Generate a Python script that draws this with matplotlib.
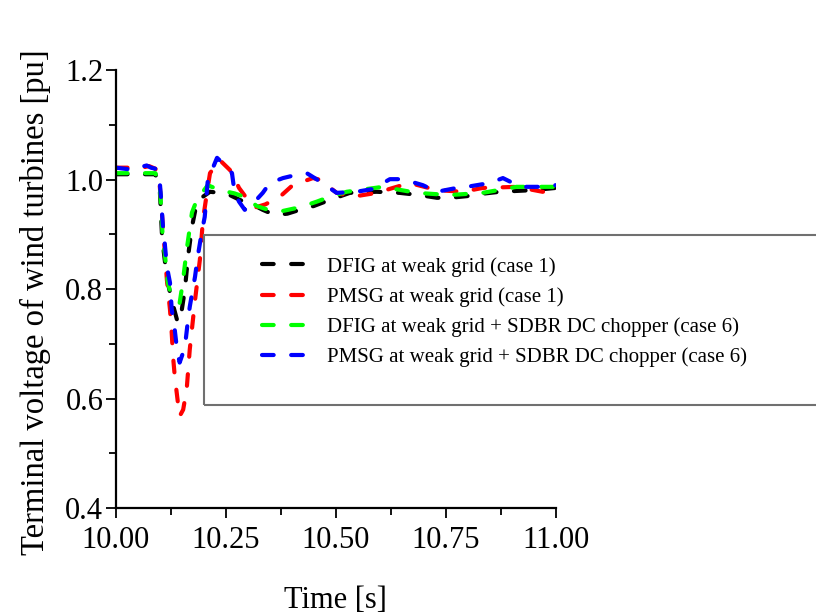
import numpy as np
import matplotlib
matplotlib.use("Agg")
import matplotlib.pyplot as plt
from matplotlib.patches import Rectangle
from matplotlib.ticker import MultipleLocator, FormatStrFormatter

plt.rcParams['font.family'] = ['Liberation Serif', 'DejaVu Serif']

# terminal voltage traces [pu] vs time [s]
t_dfig = [10.0, 10.05, 10.09, 10.1, 10.105, 10.111, 10.118, 10.127, 10.139, 10.141, 10.15,
          10.157, 10.164, 10.173, 10.184, 10.198, 10.214, 10.236, 10.259, 10.282, 10.31,
          10.334, 10.357, 10.366, 10.39, 10.418, 10.45, 10.486, 10.532, 10.593, 10.645,
          10.69, 10.73, 10.76, 10.798, 10.84, 10.873, 10.948, 11.0]
v_dfig = [1.01, 1.01, 1.01, 0.98, 0.896, 0.854, 0.812, 0.78, 0.744, 0.739, 0.763,
          0.8, 0.859, 0.914, 0.958, 0.969, 0.978, 0.976, 0.972, 0.963, 0.955,
          0.945, 0.937, 0.936, 0.938, 0.945, 0.952, 0.963, 0.976, 0.978, 0.976,
          0.972, 0.967, 0.967, 0.97, 0.975, 0.978, 0.981, 0.985]

t_pmsg = [10.0, 10.03, 10.06, 10.075, 10.09, 10.1, 10.107, 10.111, 10.116, 10.123, 10.127,
          10.13, 10.134, 10.141, 10.145, 10.153, 10.161, 10.168, 10.18, 10.191, 10.198,
          10.207, 10.214, 10.236, 10.259, 10.266, 10.28, 10.305, 10.316, 10.34, 10.373,
          10.402, 10.448, 10.464, 10.502, 10.539, 10.593, 10.63, 10.668, 10.73, 10.789,
          10.834, 10.911, 10.97, 10.993, 11.0]
v_pmsg = [1.022, 1.022, 1.022, 1.025, 1.02, 0.987, 0.914, 0.872, 0.817, 0.763, 0.72,
          0.677, 0.64, 0.593, 0.568, 0.58, 0.617, 0.69, 0.78, 0.854, 0.927,
          0.976, 1.012, 1.036, 1.018, 1.009, 0.985, 0.958, 0.949, 0.955, 0.969,
          0.99, 1.003, 1.0, 0.976, 0.969, 0.976, 0.985, 0.994, 0.981, 0.978,
          0.985, 0.987, 0.978, 0.978, 0.978]

t_dfig_sdbr = [10.0, 10.05, 10.09, 10.1, 10.103, 10.107, 10.111, 10.118, 10.127, 10.145,
               10.152, 10.161, 10.173, 10.184, 10.209, 10.236, 10.27, 10.298, 10.32, 10.35,
               10.38, 10.42, 10.457, 10.49, 10.525, 10.607, 10.684, 10.759, 10.834, 10.911,
               10.986, 11.0]
v_dfig_sdbr = [1.012, 1.012, 1.012, 0.987, 0.95, 0.885, 0.867, 0.812, 0.786, 0.775,
               0.812, 0.872, 0.94, 0.963, 0.99, 0.981, 0.975, 0.967, 0.952, 0.944,
               0.943, 0.95, 0.96, 0.97, 0.978, 0.987, 0.976, 0.972, 0.976, 0.987,
               0.987, 0.987]

t_pmsg_sdbr = [10.0, 10.02, 10.04, 10.06, 10.07, 10.08, 10.09, 10.1, 10.103, 10.107, 10.111,
               10.116, 10.123, 10.127, 10.133, 10.139, 10.145, 10.151, 10.157, 10.164, 10.168,
               10.18, 10.186, 10.195, 10.202, 10.209, 10.23, 10.252, 10.264, 10.27, 10.28,
               10.293, 10.31, 10.334, 10.35, 10.38, 10.411, 10.434, 10.47, 10.502, 10.547,
               10.584, 10.623, 10.652, 10.698, 10.73, 10.775, 10.798, 10.85, 10.88, 10.92,
               10.96, 11.0]
v_pmsg_sdbr = [1.022, 1.02, 1.018, 1.024, 1.026, 1.022, 1.02, 0.994, 0.963, 0.914, 0.885,
               0.841, 0.812, 0.763, 0.732, 0.69, 0.666, 0.68, 0.695, 0.744, 0.768,
               0.823, 0.859, 0.903, 0.932, 0.999, 1.04, 1.023, 1.012, 0.976, 0.96,
               0.945, 0.955, 0.976, 0.994, 1.003, 1.009, 1.012, 0.994, 0.976, 0.978,
               0.983, 1.001, 1.001, 0.99, 0.978, 0.985, 0.987, 0.994, 1.003, 0.987,
               0.987, 0.99]

labels = ['DFIG at weak grid (case 1)',
          'PMSG at weak grid (case 1)',
          'DFIG at weak grid + SDBR DC chopper (case 6)',
          'PMSG at weak grid + SDBR DC chopper (case 6)']
colors = ['#000000', '#ff0000', '#00ff00', '#0000ff']

fig = plt.figure(figsize=(8.16, 6.16), dpi=100)
ax = fig.add_axes([0.142, 0.175, 0.539, 0.711])

series = [(t_dfig, v_dfig), (t_pmsg, v_pmsg),
          (t_dfig_sdbr, v_dfig_sdbr), (t_pmsg_sdbr, v_pmsg_sdbr)]
handles = []
for (t, v), c, lab in zip(series, colors, labels):
    ln, = ax.plot(t, v, color=c, lw=3.0, dashes=(2.8, 4.2),
                  dash_capstyle='round', label=lab)
    handles.append(ln)

ax.set_xlim(10.0, 11.0)
ax.set_ylim(0.4, 1.2)
ax.xaxis.set_major_locator(MultipleLocator(0.25))
ax.xaxis.set_minor_locator(MultipleLocator(0.125))
ax.yaxis.set_major_locator(MultipleLocator(0.2))
ax.yaxis.set_minor_locator(MultipleLocator(0.1))
ax.xaxis.set_major_formatter(FormatStrFormatter('%.2f'))
ax.yaxis.set_major_formatter(FormatStrFormatter('%.1f'))

for s in ['top', 'right']:
    ax.spines[s].set_visible(False)
for s in ['left', 'bottom']:
    ax.spines[s].set_linewidth(1.6)
ax.tick_params(which='major', direction='out', length=7, width=1.3,
               labelsize=22, pad=2)
ax.tick_params(axis='x', which='major', pad=6)
ax.tick_params(which='minor', direction='out', length=5, width=1.3)

ax.set_xlabel('Time [s]', fontsize=22, labelpad=22)
ax.set_ylabel('Terminal voltage of wind turbines [pu]', fontsize=23.5, labelpad=6)
ax.yaxis.set_label_coords(-0.148, 0.47)

# legend box runs off the right side of the figure
fig.patches.append(Rectangle((204 / 816, 1 - 405 / 616), 0.9, 170 / 616,
                             transform=fig.transFigure, fill=False,
                             edgecolor='#707070', lw=1.5, zorder=5))
fig.legend(handles=handles, labels=labels, loc='upper left',
           bbox_to_anchor=(262 / 816, 1 - 257 / 616), frameon=False,
           fontsize=15, handlelength=2.5, handletextpad=0.6,
           labelspacing=0.5, borderpad=0, borderaxespad=0)

fig.savefig('out.png', dpi=100)
